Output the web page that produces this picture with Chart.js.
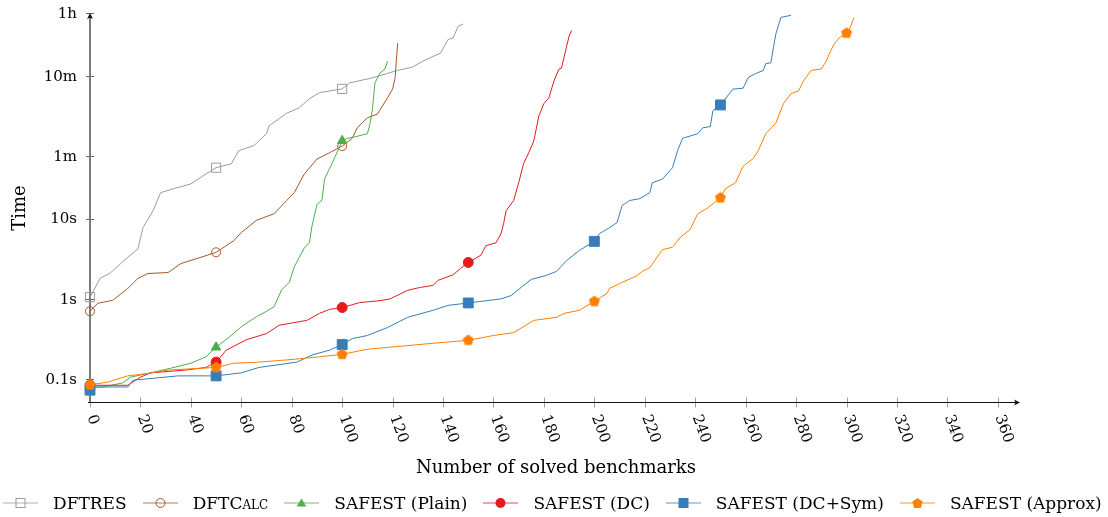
<!DOCTYPE html>
<html>
<head>
<meta charset="utf-8">
<script src="https://cdn.jsdelivr.net/npm/chart.js@4.4.0/dist/chart.umd.min.js"></script>
<style>
body { margin: 0; background: #fff; }
#wrap { position: relative; width: 1108px; height: 517px; }
#c { position: absolute; left: 0; top: 0; }
#legend { position: absolute; left: 3px; top: 493px; display: flex; align-items: center;
          font-family: "DejaVu Serif", serif; font-size: 17px; color: #000; white-space: nowrap; }
.item { display: flex; align-items: center; margin-right: 16px; }
.item svg { margin-right: 15px; }
.sc { font-variant: small-caps; }
</style>
</head>
<body>
<div id="wrap">
  <canvas id="c" width="1108" height="517"></canvas>
  <div id="legend"></div>
</div>
<script>
// tick values
const xTicks = [0, 20, 40, 60, 80, 100, 120, 140, 160, 180, 200, 220, 240, 260, 280, 300, 320, 340, 360];
const yTicks = [0.1, 1, 10, 60, 600, 3600];
const yTickLabels = ['0.1s', '1s', '10s', '1m', '10m', '1h'];

// number of solved benchmarks (n) and time in seconds (t)
const dftresN = [0, 4, 8, 15, 19, 21, 25, 28, 33, 40, 46, 50, 56, 59, 65, 70, 71, 78, 83, 87, 91, 100, 103, 112, 122, 128, 132, 139, 142, 144, 146, 148];
const dftresT = [1.05, 1.8, 2.1, 3.3, 4.2, 7.7, 12.5, 21, 23.5, 27, 36, 43, 48, 70, 81, 114, 143, 205, 240, 310, 370, 412, 490, 565, 700, 770, 915, 1150, 1700, 1770, 2490, 2650];

const dftcalcN = [0, 3, 9, 15, 19, 23, 31, 36, 44, 50, 57, 60, 66, 73, 78, 81, 85, 90, 95, 100, 104, 106, 110, 114, 118, 120, 121, 122];
const dftcalcT = [0.7, 0.88, 0.96, 1.35, 1.8, 2.07, 2.13, 2.75, 3.3, 3.8, 5.3, 6.7, 9.5, 11.5, 16.8, 21, 36, 55, 66, 80, 100, 135, 180, 200, 320, 410, 570, 1530];

const plainN = [0, 5, 13, 16, 24, 32, 40, 46, 50, 55, 60, 63, 66, 70, 73, 76, 79, 81, 83, 85, 87, 88, 90, 92, 93, 95, 97, 100, 102, 105, 110, 111, 112, 113, 115, 117, 118];
const plainT = [0.08, 0.08, 0.09, 0.106, 0.12, 0.137, 0.158, 0.19, 0.25, 0.33, 0.45, 0.52, 0.6, 0.7, 0.8, 1.3, 1.6, 2.5, 3.3, 4.3, 5.0, 8, 15, 17, 31, 42, 57, 93, 100, 104, 114, 150, 230, 490, 650, 730, 915];

const dcN = [0, 15, 20, 24, 38, 46, 50, 54, 62, 70, 75, 86, 91, 95, 100, 107, 115, 119, 126, 131, 136, 138, 144, 147, 150, 155, 157, 161, 163, 164, 165, 168, 170, 172, 174, 176, 178, 180, 182, 184, 186, 187, 189, 190, 191];
const dcT = [0.084, 0.084, 0.106, 0.12, 0.13, 0.14, 0.163, 0.23, 0.31, 0.37, 0.47, 0.54, 0.66, 0.74, 0.78, 0.9, 0.95, 1.0, 1.28, 1.39, 1.47, 1.7, 2.0, 2.4, 2.84, 3.5, 4.6, 5.0, 6.5, 8.6, 12.5, 16.8, 28, 49, 66, 93, 190, 270, 320, 520, 730, 750, 1400, 1870, 2200];

const symN = [0, 3, 15, 17, 35, 50, 60, 67, 82, 88, 95, 100, 104, 110, 118, 126, 136, 142, 150, 163, 167, 171, 175, 181, 185, 189, 194, 200, 202, 206, 209, 211, 214, 218, 222, 223, 227, 231, 233, 235, 241, 243, 246, 247, 250, 255, 259, 261, 264, 267, 268, 270, 271, 272, 274, 278];
const symT = [0.073, 0.08, 0.08, 0.097, 0.11, 0.11, 0.12, 0.14, 0.163, 0.2, 0.23, 0.27, 0.32, 0.35, 0.44, 0.59, 0.72, 0.83, 0.89, 1.0, 1.1, 1.39, 1.75, 1.96, 2.2, 3.0, 4.0, 5.2, 6.5, 7.7, 8.9, 14.5, 16.8, 17.7, 21, 28, 31, 43, 70, 100, 114, 135, 140, 220, 260, 410, 420, 570, 640, 700, 850, 870, 1340, 2000, 3200, 3400];

const approxN = [0, 7, 15, 23, 31, 50, 57, 67, 81, 91, 100, 110, 123, 136, 150, 160, 168, 176, 185, 188, 194, 200, 205, 206, 210, 217, 219, 222, 227, 231, 234, 238, 241, 245, 250, 252, 256, 259, 263, 265, 268, 272, 275, 278, 281, 283, 286, 290, 292, 293, 295, 297, 300, 301, 303];
const approxT = [0.085, 0.092, 0.11, 0.118, 0.13, 0.14, 0.158, 0.163, 0.177, 0.19, 0.204, 0.236, 0.257, 0.28, 0.305, 0.35, 0.38, 0.54, 0.59, 0.66, 0.72, 0.93, 1.17, 1.35, 1.55, 1.95, 2.2, 2.45, 4.1, 4.4, 5.8, 7.3, 11.5, 13.6, 18.2, 23.6, 28, 45, 56, 70, 114, 155, 270, 360, 390, 520, 700, 730, 915, 1100, 1470, 1770, 2040, 2200, 3200];

const FONT = '"DejaVu Serif", serif';

// pentagon marker (no built-in style for it)
function pentagon(color, r) {
    const s = Math.ceil(r * 2 + 2);
    const cv = document.createElement('canvas');
    cv.width = s; cv.height = s;
    const g = cv.getContext('2d');
    g.fillStyle = color;
    g.beginPath();
    for (let k = 0; k < 5; k++) {
        const a = -Math.PI / 2 + k * 2 * Math.PI / 5;
        const px = s / 2 + r * Math.cos(a), py = s / 2 + r * Math.sin(a);
        k ? g.lineTo(px, py) : g.moveTo(px, py);
    }
    g.closePath();
    g.fill();
    return cv;
}

const series = [
    { label: 'DFTRES', n: dftresN, t: dftresT, color: '#9b9b9b', style: 'rect', r: 6.5, filled: false },
    { label: 'DFTCalc', n: dftcalcN, t: dftcalcT, color: '#a65628', style: 'circle', r: 4.5, filled: false },
    { label: 'SAFEST (Plain)', n: plainN, t: plainT, color: '#4daf4a', style: 'triangle', r: 5.5, filled: true },
    { label: 'SAFEST (DC)', n: dcN, t: dcT, color: '#e41a1c', style: 'circle', r: 5, filled: true },
    { label: 'SAFEST (DC+Sym)', n: symN, t: symT, color: '#377eb8', style: 'rect', r: 7, filled: true },
    { label: 'SAFEST (Approx)', n: approxN, t: approxT, color: '#ff7f00', style: pentagon('#ff7f00', 5.8), r: 5, filled: true }
];

const datasets = series.map((s, i) => ({
    label: s.label,
    data: s.n.map((v, k) => ({ x: v, y: s.t[k] })),
    borderColor: s.color,
    borderWidth: 1,
    tension: 0,
    clip: false,
    order: series.length - i,
    pointStyle: s.style,
    pointBorderColor: s.color,
    pointBorderWidth: 1,
    pointBackgroundColor: s.filled ? s.color : 'rgba(0,0,0,0)',
    pointRadius: ctx => (ctx.raw && ctx.raw.x % 50 === 0 ? s.r : 0),
    pointHoverRadius: 0
}));

const axesPlugin = {
    id: 'axes',
    beforeDatasetsDraw(chart) {
        const { ctx, chartArea: a, scales: { x, y } } = chart;
        const x0 = Math.round(x.getPixelForValue(0));
        const yb = Math.round(a.bottom) + 0.5;
        ctx.save();

        // tick marks
        ctx.strokeStyle = '#a0a0a0';
        ctx.lineWidth = 1;
        xTicks.forEach(v => {
            const px = Math.round(x.getPixelForValue(v)) + 0.5;
            ctx.beginPath(); ctx.moveTo(px, yb - 5); ctx.lineTo(px, yb + 5); ctx.stroke();
        });
        ctx.strokeStyle = '#666';
        yTicks.forEach(v => {
            const py = Math.round(y.getPixelForValue(v)) + 0.5;
            ctx.beginPath(); ctx.moveTo(x0 - 4, py); ctx.lineTo(x0 + 4, py); ctx.stroke();
        });

        // y axis with arrow
        ctx.strokeStyle = '#7a7a7a';
        ctx.lineWidth = 2;
        ctx.beginPath(); ctx.moveTo(x0, yb); ctx.lineTo(x0, a.top + 4); ctx.stroke();
        ctx.fillStyle = '#111';
        ctx.beginPath();
        ctx.moveTo(x0, a.top); ctx.lineTo(x0 - 3, a.top + 6); ctx.lineTo(x0, a.top + 4.5); ctx.lineTo(x0 + 3, a.top + 6);
        ctx.closePath(); ctx.fill();

        // x axis with arrow
        ctx.strokeStyle = '#111';
        ctx.lineWidth = 1.2;
        ctx.beginPath(); ctx.moveTo(x0 - 2, yb); ctx.lineTo(a.right - 3, yb); ctx.stroke();
        ctx.beginPath();
        ctx.moveTo(a.right, yb); ctx.lineTo(a.right - 6, yb - 3); ctx.lineTo(a.right - 4.5, yb); ctx.lineTo(a.right - 6, yb + 3);
        ctx.closePath(); ctx.fill();

        // tick labels
        ctx.fillStyle = '#000';
        ctx.font = '15px ' + FONT;
        ctx.textAlign = 'right';
        ctx.textBaseline = 'middle';
        yTicks.forEach((v, i) => {
            ctx.fillText(yTickLabels[i], x0 - 13, y.getPixelForValue(v) + 1);
        });
        ctx.textAlign = 'left';
        xTicks.forEach(v => {
            ctx.save();
            ctx.translate(x.getPixelForValue(v) + 1, yb + 13);
            ctx.rotate(70 * Math.PI / 180);
            ctx.fillText(String(v), 0, 0);
            ctx.restore();
        });

        // axis titles
        ctx.font = '18px ' + FONT;
        ctx.textAlign = 'center';
        ctx.fillText('Number of solved benchmarks', 556, 468);
        ctx.save();
        ctx.translate(20, 208);
        ctx.rotate(-Math.PI / 2);
        ctx.fillText('Time', 0, 0);
        ctx.restore();
        ctx.restore();
    }
};

new Chart(document.getElementById('c'), {
    type: 'line',
    data: { datasets: datasets },
    options: {
        responsive: false,
        animation: false,
        layout: { padding: { left: 90, right: 88, top: 13, bottom: 115 } },
        scales: {
            x: { type: 'linear', min: 0, max: 368.8, display: false },
            y: { type: 'logarithmic', min: 0.052, max: 3630, display: false }
        },
        plugins: { legend: { display: false }, tooltip: { enabled: false } }
    },
    plugins: [axesPlugin]
});

// legend with line + marker symbols
function symbolSvg(s, i) {
    const c = s.color;
    let m = '';
    if (i === 0) m = `<rect x="13" y="2.5" width="9" height="9" fill="none" stroke="${c}"/>`;
    if (i === 1) m = `<circle cx="17.5" cy="7" r="4.5" fill="none" stroke="${c}"/>`;
    if (i === 2) m = `<polygon points="17.5,2.5 22.3,10.5 12.7,10.5" fill="${c}"/>`;
    if (i === 3) m = `<circle cx="17.5" cy="7" r="5" fill="${c}"/>`;
    if (i === 4) m = `<rect x="12.5" y="2" width="10" height="10" fill="${c}"/>`;
    if (i === 5) {
        const pts = [];
        for (let k = 0; k < 5; k++) {
            const a = -Math.PI / 2 + k * 2 * Math.PI / 5;
            pts.push((17.5 + 5.5 * Math.cos(a)).toFixed(2) + ',' + (7.5 + 5.5 * Math.sin(a)).toFixed(2));
        }
        m = `<polygon points="${pts.join(' ')}" fill="${c}"/>`;
    }
    return `<svg width="35" height="14"><line x1="0" y1="7" x2="35" y2="7" stroke="${c}" stroke-width="1.2" stroke-opacity="0.8"/>${m}</svg>`;
}
const legend = document.getElementById('legend');
series.forEach((s, i) => {
    const text = s.label === 'DFTCalc' ? 'DFTC<span class="sc">alc</span>' : s.label;
    legend.insertAdjacentHTML('beforeend', `<div class="item">${symbolSvg(s, i)}<span>${text}</span></div>`);
});
</script>
</body>
</html>
